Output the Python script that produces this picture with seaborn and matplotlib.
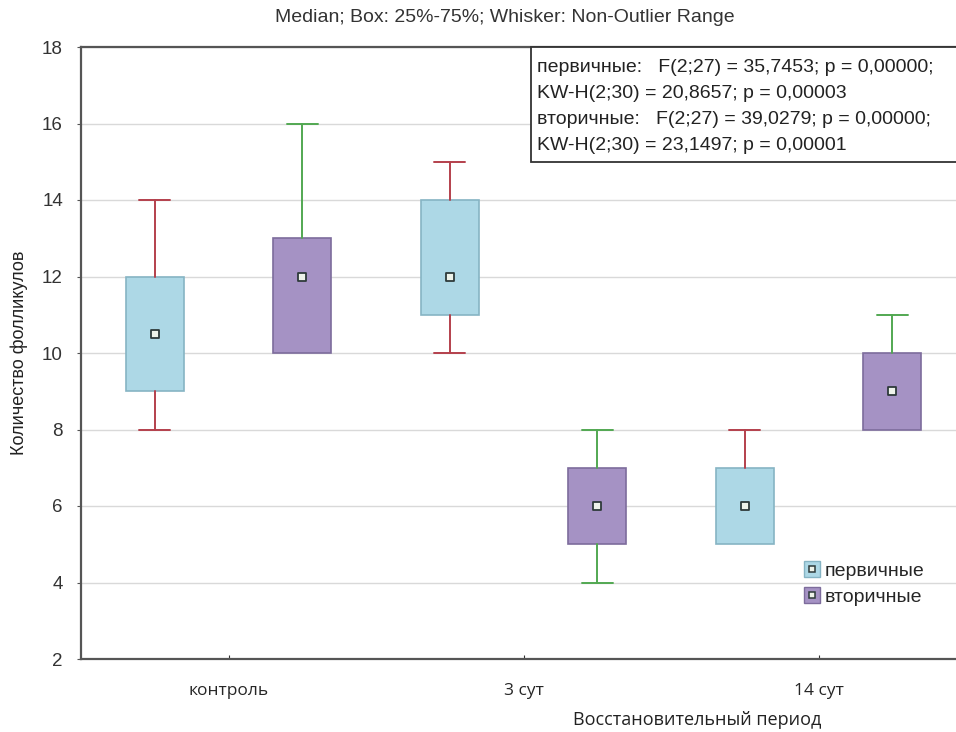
import matplotlib
matplotlib.use('Agg')
import matplotlib.pyplot as plt
import matplotlib.patches as mpatches
from matplotlib.lines import Line2D
from matplotlib.legend_handler import HandlerTuple
import pandas as pd
import seaborn as sns

groups = ['контроль', '3 сут', '14 сут']
kinds = ['первичные', 'вторичные']

# первичные
prim_med = [10.5, 12, 6]
prim_q1 = [9, 11, 5]
prim_q3 = [12, 14, 7]
prim_lo = [8, 10, 5]
prim_hi = [14, 15, 8]

# вторичные
sec_med = [12, 6, 9]
sec_q1 = [10, 5, 8]
sec_q3 = [13, 7, 10]
sec_lo = [10, 4, 8]
sec_hi = [16, 8, 11]

stats_text = [
    'первичные:   F(2;27) = 35,7453; p = 0,00000;',
    'KW-H(2;30) = 20,8657; p = 0,00003',
    'вторичные:   F(2;27) = 39,0279; p = 0,00000;',
    'KW-H(2;30) = 23,1497; p = 0,00001',
]

sns.set_style('white')
plt.rcParams['font.family'] = ['Liberation Sans', 'DejaVu Sans']

fill = {'первичные': '#add8e6', 'вторичные': '#a592c4'}
edge = {'первичные': '#86b4c4', 'вторичные': '#7d6c9c'}
whisk = {'первичные': '#b4404c', 'вторичные': '#52a852'}

rows = []
for g_i, g in enumerate(groups):
    for k_i, k in enumerate(kinds):
        if k == 'первичные':
            med, q1, q3, lo, hi = prim_med[g_i], prim_q1[g_i], prim_q3[g_i], prim_lo[g_i], prim_hi[g_i]
        else:
            med, q1, q3, lo, hi = sec_med[g_i], sec_q1[g_i], sec_q3[g_i], sec_lo[g_i], sec_hi[g_i]
        rows.append(dict(group=g, kind=k, pos=2 * g_i + k_i,
                         med=med, q1=q1, q3=q3, lo=lo, hi=hi))
df = pd.DataFrame(rows)

fig = plt.figure(figsize=(9.56, 7.32), dpi=100)
W, H = 956, 732
ax = fig.add_axes([81 / W, 73 / H, (966 - 81) / W, (685 - 73) / H])

for _, r in df.iterrows():
    st = [dict(med=r.med, q1=r.q1, q3=r.q3, whislo=r.lo, whishi=r.hi, fliers=[])]
    parts = ax.bxp(st, positions=[r.pos], widths=0.39, patch_artist=True,
                   showfliers=False, manage_ticks=False,
                   boxprops=dict(facecolor=fill[r.kind], edgecolor=edge[r.kind], linewidth=1.2),
                   whiskerprops=dict(color=whisk[r.kind], linewidth=1.4),
                   capprops=dict(color=whisk[r.kind], linewidth=1.4),
                   capwidths=0.21,
                   medianprops=dict(linewidth=0))
    # no whisker/cap where the range ends at the box
    if r.lo == r.q1:
        parts['caps'][0].set_visible(False)
        parts['whiskers'][0].set_visible(False)
    if r.hi == r.q3:
        parts['caps'][1].set_visible(False)
        parts['whiskers'][1].set_visible(False)

sns.scatterplot(data=df, x='pos', y='med', marker='s', s=28, color='#eef3ea',
                edgecolor='#2e3a3a', linewidth=1.3, ax=ax, zorder=5, legend=False)

ax.set_xlim(-0.5, 5.5)
ax.set_ylim(2, 18)
ax.set_yticks(range(2, 19, 2))
ax.set_xticks([0.5, 2.5, 4.5])
ax.set_xticklabels(groups, fontfamily='Open Sans', fontsize=12.5)
ax.tick_params(axis='y', labelsize=13.5, labelcolor='#333333', length=3, color='#555555',
               left=True, pad=10)
ax.tick_params(axis='x', length=3, color='#333333', bottom=True, direction='in', pad=17)
ax.grid(axis='y', color='#d9d9d9', linewidth=1)
ax.set_axisbelow(True)
ax.set_xlabel('')
ax.set_ylabel('Количество фолликулов', fontsize=13, color='#222222', labelpad=10)
for s in ['left', 'top', 'bottom']:
    ax.spines[s].set_color('#555555')
    ax.spines[s].set_linewidth(1.6)
ax.spines['right'].set_visible(False)

fig.text(505 / W, 1 - 18 / H, 'Median; Box: 25%-75%; Whisker: Non-Outlier Range',
         ha='center', va='center', fontsize=14, color='#333333')
fig.text(697 / W, 1 - 720 / H, 'Восстановительный период', ha='center', va='center',
         fontsize=13, fontfamily='Open Sans', color='#222222')

# statistics box
fig.add_artist(mpatches.Rectangle((531 / W, 1 - 162 / H), 500 / W, 115 / H,
                                  transform=fig.transFigure, facecolor='white',
                                  edgecolor='#333333', linewidth=1.3, zorder=6))
for i, line in enumerate(stats_text):
    fig.text(537 / W, 1 - (67 + i * 26.3) / H, line, ha='left', va='center',
             fontsize=14, color='#222222', zorder=7)

handles = [(Line2D([], [], marker='s', linestyle='', markersize=11,
                   markerfacecolor=fill[k], markeredgecolor=edge[k]),
            Line2D([], [], marker='s', linestyle='', markersize=4.5,
                   markerfacecolor='#eef3ea', markeredgecolor='#2e3a3a', markeredgewidth=1.1))
           for k in kinds]
fig.legend(handles, kinds, handler_map={tuple: HandlerTuple(ndivide=1, pad=0)},
           loc='center left', bbox_to_anchor=(794 / W, 1 - 584 / H), frameon=False,
           handlelength=0.8, handletextpad=0.25, labelspacing=0.45, fontsize=14,
           borderpad=0)

fig.savefig('out.png', dpi=100)
